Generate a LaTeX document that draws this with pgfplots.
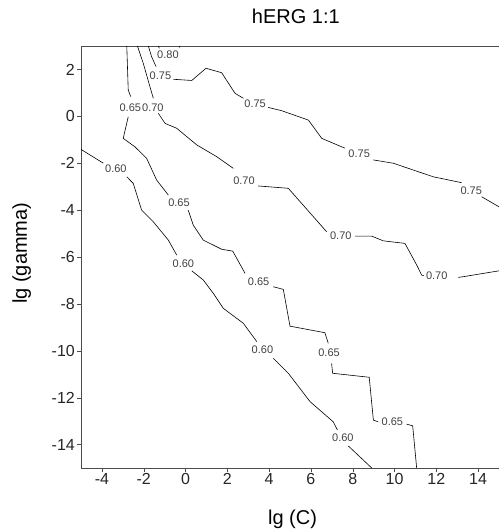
\documentclass[border=0pt]{standalone}
\usepackage{fontspec}
\setmainfont{Liberation Sans}
\usepackage{pgfplots}
\pgfplotsset{compat=1.18}

% contour label positions
\usepackage{pgfplotstable}
\pgfplotstableread{
x y lab
-3.33 -2.23 0.60
-0.10 -6.27 0.60
3.68 -9.97 0.60
7.53 -13.71 0.60
-2.64 0.36 0.65
-0.31 -3.68 0.65
3.50 -7.05 0.65
6.87 -10.08 0.65
9.90 -13.03 0.65
-1.56 0.36 0.70
2.80 -2.75 0.70
7.43 -5.09 0.70
12.02 -6.81 0.70
-1.20 1.72 0.75
3.33 0.53 0.75
8.31 -1.61 0.75
13.67 -3.17 0.75
-0.84 2.61 0.80
}\labels

\begin{document}
\begin{tikzpicture}
\path[use as bounding box] (-81pt,-61pt) rectangle (418pt,468pt);
\begin{axis}[
  at={(0pt,0pt)}, anchor=south west,
  width=418pt, height=422pt, scale only axis,
  xmin=-5, xmax=15, ymin=-15, ymax=3,
  axis x line=box, axis y line=left,
  axis line style={black!70, -},
  xtick pos=bottom, ytick pos=left,
  tick align=outside, major tick length=4pt,
  tick style={black!70},
  xtick={-4,-2,...,14},
  xticklabels={-4,-2,0,2,4,6,8,10,12,14},
  ytick={-14,-12,...,2},
  yticklabels={-14,-12,-10,-8,-6,-4,-2,0,2},
  tick label style={font=\fontsize{16}{18}\selectfont, text=black!85},
  xticklabel style={inner sep=1pt},
  yticklabel style={inner sep=2pt},
  title={hERG 1:1},
  title style={at={(0.514,1.0396)}, anchor=base, font=\fontsize{20}{22}\selectfont},
  xlabel={lg (C)},
  xlabel style={at={(0.506,-0.1327)}, anchor=base, font=\fontsize{20}{22}\selectfont},
  ylabel={lg (gamma)},
  ylabel style={at={(-0.1292,0.509)}, anchor=base, font=\fontsize{20}{22}\selectfont},
  cl/.style={black, solid, line width=0.6pt, mark=none},
]
% 0.60
\addplot[cl] coordinates {(-5,-1.41) (-3.93,-2.00)};
\addplot[cl] coordinates {(-2.81,-2.58) (-2.50,-2.86) (-2.10,-4.00) (-1.54,-4.50) (-0.82,-5.28) (-0.42,-5.92)};
\addplot[cl] coordinates {(0.30,-6.59) (0.85,-6.98) (1.33,-7.55) (1.81,-8.19) (2.77,-8.83) (3.41,-9.61)};
\addplot[cl] coordinates {(4.20,-10.32) (4.92,-10.96) (5.96,-12.17) (7.07,-13.03) (7.27,-13.38)};
\addplot[cl] coordinates {(7.79,-14.06) (8.91,-15)};
% 0.65
\addplot[cl] coordinates {(-2.81,3) (-2.74,1.12) (-2.62,0.84)};
\addplot[cl] coordinates {(-2.74,-0.02) (-2.98,-0.94) (-2.42,-1.30) (-1.86,-1.79) (-1.38,-2.72) (-0.82,-3.36)};
\addplot[cl] coordinates {(0.13,-4.0) (0.37,-4.64) (0.85,-5.28) (1.73,-5.67) (2.26,-5.75) (2.85,-6.70)};
\addplot[cl] coordinates {(4.20,-7.27) (4.68,-7.38) (5.0,-8.95) (6.67,-9.23) (6.83,-9.68)};
\addplot[cl] coordinates {(6.99,-10.54) (7.04,-10.96) (8.79,-11.13) (8.99,-12.96) (9.22,-13.03)};
\addplot[cl] coordinates {(10.58,-13.13) (10.87,-13.20) (11.06,-15)};
% 0.70
\addplot[cl] coordinates {(-2.30,3) (-2.02,2.26) (-1.70,1.26) (-1.54,0.77)};
\addplot[cl] coordinates {(-1.30,0.13) (-0.98,-0.30) (-0.42,-0.51) (0.54,-1.22) (1.49,-1.72) (2.29,-2.22)};
\addplot[cl] coordinates {(3.48,-2.97) (4.92,-3.07) (6.75,-4.92)};
\addplot[cl] coordinates {(8.11,-5.11) (8.91,-5.11) (9.46,-5.31) (10.50,-5.42) (11.06,-6.34) (11.30,-6.77) (11.40,-6.80)};
\addplot[cl] coordinates {(13.05,-6.87) (13.29,-6.84) (15,-6.59)};
% 0.75
\addplot[cl] coordinates {(-1.78,3) (-1.62,2.54) (-1.41,2.12)};
\addplot[cl] coordinates {(-0.58,1.58) (0.30,1.53) (0.98,2.05) (1.73,1.86) (2.37,0.98) (2.77,0.77)};
\addplot[cl] coordinates {(3.96,0.38) (4.60,0.24) (5.88,-0.16) (6.52,-0.94) (7.63,-1.36)};
\addplot[cl] coordinates {(8.99,-1.86) (9.94,-2.00) (11.86,-2.58) (13.21,-2.83)};
\addplot[cl] coordinates {(14.17,-3.43) (15,-3.86)};
% 0.80
\addplot[cl] coordinates {(-1.30,3) (-1.25,2.90)};
\addplot[cl] coordinates {(-0.30,2.94) (-0.26,3)};
% labels
\addplot[draw=none, mark=none, nodes near coords, point meta=explicit symbolic,
  every node near coord/.append style={anchor=center, inner sep=0pt,
  font=\fontsize{11}{12}\selectfont, text=black!75}]
  table[meta=lab] {\labels};
\end{axis}
\end{tikzpicture}
\end{document}
